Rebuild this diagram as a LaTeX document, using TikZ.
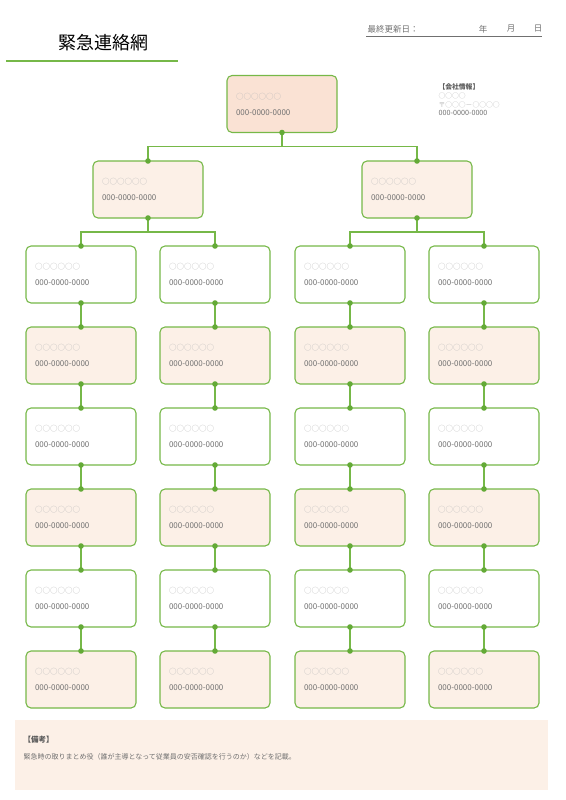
\documentclass[tikz,border=0pt]{standalone}
\usepackage{fontspec}
\setmainfont{Noto Sans CJK JP}
\definecolor{netgreen}{RGB}{118,184,72}
\definecolor{dotgreen}{RGB}{100,170,55}
\definecolor{peachdark}{RGB}{250,226,212}
\definecolor{peachlight}{RGB}{252,240,231}
\definecolor{txtgray}{RGB}{112,112,112}
\definecolor{circgray}{RGB}{185,185,185}
\tikzset{
  card/.style={draw=netgreen,line width=1.1pt,rounded corners=5pt,outer sep=0pt,
    minimum width=110pt,minimum height=57pt,text width=92pt,align=left,
    font=\fontsize{7.5}{9}\selectfont},
  wire/.style={draw=netgreen,line width=1.1pt},
  joint/.style={fill=dotgreen}
}
\newcommand{\cardtext}{{\color{circgray}○○○○○○}\\[7pt]{\fontsize{8}{9}\selectfont\color{txtgray}000-0000-0000}}
\begin{document}
\begin{tikzpicture}[x=1pt,y=-1pt]
\useasboundingbox (0,0) rectangle (565,800);

\node[anchor=west] (title) at (55,43) {\fontsize{18}{20}\selectfont 緊急連絡網};
\draw[netgreen,line width=1.5pt] (6,61) -- (178,61);

\node[anchor=west,text=txtgray,font=\fontsize{8.5}{10}\selectfont] (date) at (364,29) {最終更新日：};
\node[text=txtgray,font=\fontsize{8.5}{10}\selectfont] (year) at (483,29) {年};
\node[text=txtgray,font=\fontsize{8.5}{10}\selectfont] (month) at (511,29) {月};
\node[text=txtgray,font=\fontsize{8.5}{10}\selectfont] (day) at (538,29) {日};
\draw[txtgray,line width=0.5pt] (366,36) -- (542,36);

\node[anchor=west,text=txtgray!80!black,font=\fontsize{6.8}{8}\selectfont\bfseries] (info) at (435,87) {【会社情報】};
\node[anchor=west,text=circgray,font=\fontsize{6.8}{8}\selectfont] (infoname) at (435,96) {○○○○};
\node[anchor=west,text=circgray,font=\fontsize{6.8}{8}\selectfont] (infozip) at (435,104.5) {〒○○○－○○○○};
\node[anchor=west,text=txtgray,font=\fontsize{7.2}{8}\selectfont] (infotel) at (435,113) {000-0000-0000};

\node[card,fill=peachdark] (top) at (282,104) {\cardtext};
\node[card,fill=peachlight] (l) at (148,189.5) {\cardtext};
\node[card,fill=peachlight] (r) at (417,189.5) {\cardtext};

\foreach \c/\x in {1/81,2/215,3/350,4/484} {
  \foreach \r in {1,...,6} {
    \pgfmathsetmacro\cy{274.5+81*(\r-1)}
    \ifodd\r \def\cfill{white}\else \def\cfill{peachlight}\fi
    \node[card,fill=\cfill] (b-\c-\r) at (\x,\cy) {\cardtext};
  }
}

\foreach \p/\a/\b in {top/l/r, l/b-1-1/b-2-1, r/b-3-1/b-4-1} {
  \draw[wire] (\p.south) -- ++(0,14) -| (\a.north);
  \draw[wire] (\p.south) -- ++(0,14) -| (\b.north);
  \fill[joint] (\p.south) circle (2.8pt) (\a.north) circle (2.8pt) (\b.north) circle (2.8pt);
}

\foreach \c in {1,...,4} {
  \foreach \r in {1,...,5} {
    \pgfmathtruncatemacro\n{\r+1}
    \draw[wire] (b-\c-\r.south) -- (b-\c-\n.north);
    \fill[joint] (b-\c-\r.south) circle (2.8pt) (b-\c-\n.north) circle (2.8pt);
  }
}

\fill[peachlight] (15,720) rectangle (548,790);
\node[anchor=west,text=txtgray!80!black,font=\fontsize{7.5}{9}\selectfont\bfseries] (note) at (20,740) {【備考】};
\node[anchor=west,text=txtgray,font=\fontsize{7}{8}\selectfont] (notetext) at (20,757) {緊急時の取りまとめ役（誰が主導となって従業員の安否確認を行うのか）などを記載。};

\end{tikzpicture}
\end{document}
